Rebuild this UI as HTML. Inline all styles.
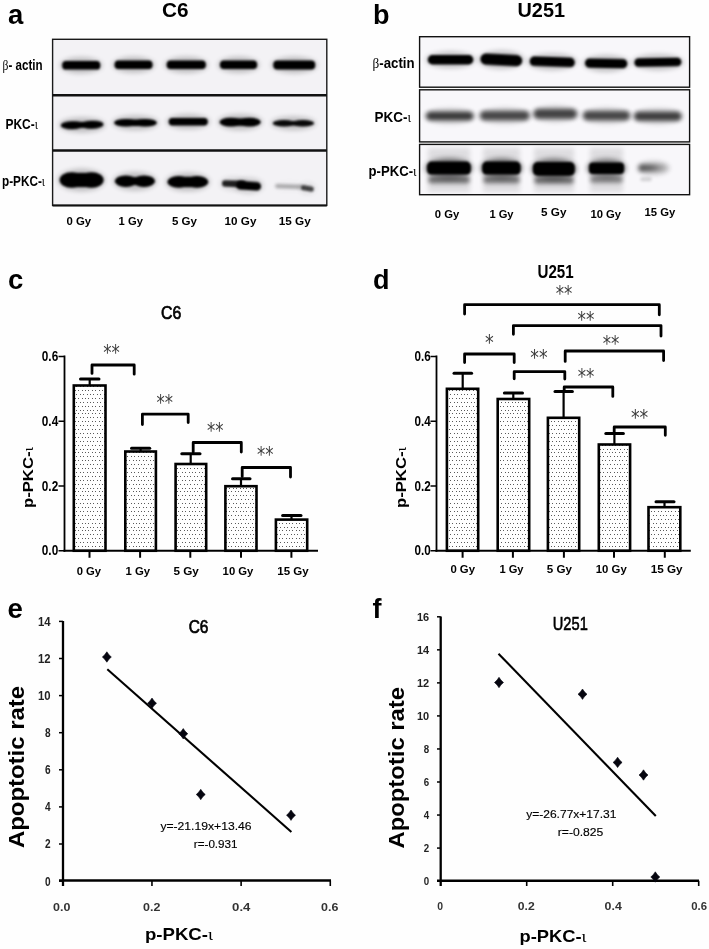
<!DOCTYPE html>
<html><head><meta charset="utf-8"><title>PKC-iota figure</title>
<style>html,body{margin:0;padding:0;background:#fefefe;}svg{display:block;}</style>
</head><body>
<svg width="709" height="949" viewBox="0 0 709 949">
<defs>
<filter id="bb" x="-20%" y="-60%" width="140%" height="220%"><feGaussianBlur stdDeviation="0.8"/></filter><filter id="bb2" x="-20%" y="-60%" width="140%" height="220%"><feGaussianBlur stdDeviation="1.5"/></filter><filter id="bb3" x="-20%" y="-80%" width="140%" height="260%"><feGaussianBlur stdDeviation="2.1"/></filter>
<filter id="bh" x="-30%" y="-80%" width="160%" height="260%"><feGaussianBlur stdDeviation="2.5"/></filter>
<pattern id="dots" patternUnits="userSpaceOnUse" width="17" height="39" x="0" y="0"><g fill="#5a5a5a"><rect x="0" y="0" width="1" height="1"/><rect x="3" y="0" width="1" height="1"/><rect x="7" y="0" width="1" height="1"/><rect x="10" y="0" width="1" height="1"/><rect x="14" y="0" width="1" height="1"/><rect x="2" y="4" width="1" height="1"/><rect x="5" y="4" width="1" height="1"/><rect x="8" y="4" width="1" height="1"/><rect x="12" y="4" width="1" height="1"/><rect x="15" y="4" width="1" height="1"/><rect x="0" y="8" width="1" height="1"/><rect x="3" y="8" width="1" height="1"/><rect x="7" y="8" width="1" height="1"/><rect x="10" y="8" width="1" height="1"/><rect x="14" y="8" width="1" height="1"/><rect x="2" y="12" width="1" height="1"/><rect x="5" y="12" width="1" height="1"/><rect x="8" y="12" width="1" height="1"/><rect x="12" y="12" width="1" height="1"/><rect x="15" y="12" width="1" height="1"/><rect x="0" y="16" width="1" height="1"/><rect x="3" y="16" width="1" height="1"/><rect x="7" y="16" width="1" height="1"/><rect x="10" y="16" width="1" height="1"/><rect x="14" y="16" width="1" height="1"/><rect x="2" y="20" width="1" height="1"/><rect x="5" y="20" width="1" height="1"/><rect x="8" y="20" width="1" height="1"/><rect x="12" y="20" width="1" height="1"/><rect x="15" y="20" width="1" height="1"/><rect x="0" y="23" width="1" height="1"/><rect x="3" y="23" width="1" height="1"/><rect x="7" y="23" width="1" height="1"/><rect x="10" y="23" width="1" height="1"/><rect x="14" y="23" width="1" height="1"/><rect x="2" y="27" width="1" height="1"/><rect x="5" y="27" width="1" height="1"/><rect x="8" y="27" width="1" height="1"/><rect x="12" y="27" width="1" height="1"/><rect x="15" y="27" width="1" height="1"/><rect x="0" y="31" width="1" height="1"/><rect x="3" y="31" width="1" height="1"/><rect x="7" y="31" width="1" height="1"/><rect x="10" y="31" width="1" height="1"/><rect x="14" y="31" width="1" height="1"/><rect x="2" y="35" width="1" height="1"/><rect x="5" y="35" width="1" height="1"/><rect x="8" y="35" width="1" height="1"/><rect x="12" y="35" width="1" height="1"/><rect x="15" y="35" width="1" height="1"/></g></pattern><linearGradient id="fade" x1="0" x2="1" y1="0" y2="0"><stop offset="0" stop-color="#000" stop-opacity="0.6"/><stop offset="0.45" stop-color="#000" stop-opacity="0.5"/><stop offset="1" stop-color="#000" stop-opacity="0.05"/></linearGradient>
</defs>
<rect width="709" height="949" fill="#fefefe"/>
<rect x="52.6" y="39.3" width="274.2" height="56.0" fill="#f3f2f5"/><rect x="52.6" y="95.3" width="274.2" height="55.2" fill="#f3f2f5"/><rect x="52.6" y="150.5" width="274.2" height="54.9" fill="#f3f2f5"/><g><ellipse cx="81.2" cy="65.3" rx="21.2" ry="8.0" fill="#000" opacity="0.22" filter="url(#bh)"/><rect x="62.2" y="61.0" width="38.1" height="8.6" rx="3.9" fill="#000" filter="url(#bb)"/><ellipse cx="133.6" cy="64.8" rx="21.1" ry="8.0" fill="#000" opacity="0.22" filter="url(#bh)"/><rect x="114.6" y="60.5" width="37.9" height="8.5" rx="3.8" fill="#000" filter="url(#bb)"/><ellipse cx="186.2" cy="64.8" rx="21.8" ry="8.0" fill="#000" opacity="0.22" filter="url(#bh)"/><rect x="166.7" y="60.5" width="39.1" height="8.5" rx="3.8" fill="#000" filter="url(#bb)"/><ellipse cx="238.6" cy="64.8" rx="20.8" ry="8.0" fill="#000" opacity="0.22" filter="url(#bh)"/><rect x="220.0" y="60.5" width="37.1" height="8.5" rx="3.8" fill="#000" filter="url(#bb)"/><ellipse cx="294.2" cy="65.0" rx="23.1" ry="8.2" fill="#000" opacity="0.22" filter="url(#bh)"/><rect x="273.3" y="60.5" width="41.9" height="9.0" rx="4.1" fill="#000" filter="url(#bb)"/><ellipse cx="82.2" cy="124.9" rx="23.1" ry="7.5" fill="#000" opacity="0.22" filter="url(#bh)"/><g transform="rotate(-1.5 82.2 124.9)" filter="url(#bb)"><ellipse cx="72.4" cy="124.9" rx="11.7" ry="4.0" fill="#000"/><ellipse cx="91.9" cy="124.9" rx="11.7" ry="4.0" fill="#000"/><rect x="72.4" y="121.9" width="19.5" height="5.9" fill="#000"/></g><ellipse cx="135.5" cy="122.8" rx="23.1" ry="7.3" fill="#000" opacity="0.22" filter="url(#bh)"/><g filter="url(#bb)"><ellipse cx="125.8" cy="122.8" rx="11.7" ry="3.8" fill="#000"/><ellipse cx="145.2" cy="122.8" rx="11.7" ry="3.8" fill="#000"/><rect x="125.8" y="119.5" width="19.4" height="6.5" fill="#000"/></g><ellipse cx="188.2" cy="121.7" rx="21.8" ry="7.4" fill="#000" opacity="0.22" filter="url(#bh)"/><rect x="168.7" y="117.9" width="39.1" height="7.5" rx="3.7" fill="#000" filter="url(#bb)"/><ellipse cx="240.2" cy="122.1" rx="22.3" ry="7.9" fill="#000" opacity="0.22" filter="url(#bh)"/><g filter="url(#bb)"><ellipse cx="230.8" cy="122.1" rx="11.3" ry="4.4" fill="#000"/><ellipse cx="249.5" cy="122.1" rx="11.3" ry="4.4" fill="#000"/><rect x="230.8" y="118.4" width="18.7" height="7.4" fill="#000"/></g><ellipse cx="293.4" cy="123.2" rx="22.4" ry="6.7" fill="#000" opacity="0.21" filter="url(#bh)"/><g filter="url(#bb)" opacity="0.95"><ellipse cx="284.0" cy="123.2" rx="11.3" ry="3.2" fill="#000"/><ellipse cx="302.8" cy="123.2" rx="11.3" ry="3.2" fill="#000"/><rect x="284.0" y="121.0" width="18.8" height="4.5" fill="#000"/></g><ellipse cx="81.6" cy="180.0" rx="23.7" ry="11.2" fill="#000" opacity="0.22" filter="url(#bh)"/><g filter="url(#bb)"><ellipse cx="71.6" cy="180.0" rx="12.0" ry="7.7" fill="#000"/><ellipse cx="91.6" cy="180.0" rx="12.0" ry="7.7" fill="#000"/><rect x="71.6" y="172.9" width="20.0" height="14.2" fill="#000"/></g><ellipse cx="134.9" cy="181.2" rx="21.7" ry="9.2" fill="#000" opacity="0.22" filter="url(#bh)"/><g filter="url(#bb)"><ellipse cx="125.9" cy="181.2" rx="11.0" ry="5.8" fill="#000"/><ellipse cx="144.0" cy="181.2" rx="11.0" ry="5.8" fill="#000"/><rect x="125.9" y="177.1" width="18.2" height="8.0" fill="#000"/></g><ellipse cx="187.8" cy="181.9" rx="22.2" ry="9.2" fill="#000" opacity="0.22" filter="url(#bh)"/><g filter="url(#bb)"><ellipse cx="178.6" cy="181.9" rx="11.2" ry="5.8" fill="#000"/><ellipse cx="197.1" cy="181.9" rx="11.2" ry="5.8" fill="#000"/><rect x="178.6" y="176.8" width="18.5" height="10.3" fill="#000"/></g><ellipse cx="233.9" cy="183.8" rx="14.1" ry="7.0" fill="#000" opacity="0.10" filter="url(#bh)"/><rect x="222.0" y="180.5" width="23.8" height="6.6" rx="3.3" fill="#000" filter="url(#bb)" transform="rotate(2.0 233.9 183.8)" opacity="0.85"/><ellipse cx="248.7" cy="185.7" rx="14.7" ry="8.0" fill="#000" opacity="0.15" filter="url(#bh)"/><rect x="236.2" y="181.4" width="24.9" height="8.6" rx="4.3" fill="#000" filter="url(#bb)" transform="rotate(4.0 248.7 185.7)"/><ellipse cx="289.5" cy="186.4" rx="16.5" ry="5.7" fill="#000" opacity="0.02" filter="url(#bh)"/><rect x="275.2" y="184.4" width="28.6" height="4.0" rx="2.0" fill="#000" filter="url(#bb2)" transform="rotate(2.0 289.5 186.4)" opacity="0.30"/><ellipse cx="307.5" cy="188.3" rx="8.5" ry="6.3" fill="#000" opacity="0.07" filter="url(#bh)"/><rect x="301.2" y="185.7" width="12.6" height="5.3" rx="2.6" fill="#000" filter="url(#bb)" transform="rotate(10.0 307.5 188.3)" opacity="0.70"/></g><rect x="52.6" y="39.3" width="274.2" height="166.1" fill="none" stroke="#1a1a1a" stroke-width="1.4"/><line x1="52.6" y1="95.3" x2="326.8" y2="95.3" stroke="#111" stroke-width="2.6"/><line x1="52.6" y1="150.5" x2="326.8" y2="150.5" stroke="#111" stroke-width="2.6"/><line x1="52.6" y1="205.4" x2="326.8" y2="205.4" stroke="#111" stroke-width="2"/>
<text x="8.00" y="24.10" font-family="'Liberation Sans', Arial, sans-serif" font-size="27.50" font-weight="bold" fill="#000">a</text>
<text x="162.00" y="16.90" font-family="'Liberation Sans', Arial, sans-serif" font-size="19.50" font-weight="bold" fill="#000" textLength="26.50" lengthAdjust="spacingAndGlyphs">C6</text>
<text x="2.6" y="70.3" font-family="'Liberation Sans', Arial, sans-serif" font-size="14" font-weight="bold" textLength="40" lengthAdjust="spacingAndGlyphs"><tspan font-family="'Liberation Serif', 'Times New Roman', serif" font-weight="normal">β</tspan>- actin</text>
<text x="5.4" y="129" font-family="'Liberation Sans', Arial, sans-serif" font-size="15" font-weight="bold" textLength="32.5" lengthAdjust="spacingAndGlyphs">PKC-<tspan font-family="'Liberation Serif', 'Times New Roman', serif" font-weight="normal">ι</tspan></text>
<text x="2.0" y="185.7" font-family="'Liberation Sans', Arial, sans-serif" font-size="14.6" font-weight="bold" textLength="43" lengthAdjust="spacingAndGlyphs">p-PKC-<tspan font-family="'Liberation Serif', 'Times New Roman', serif" font-weight="normal">ι</tspan></text>
<text x="66.45" y="224.60" font-family="'Liberation Sans', Arial, sans-serif" font-size="10.80" font-weight="bold" fill="#000" textLength="24.65" lengthAdjust="spacingAndGlyphs">0 Gy</text>
<text x="118.60" y="224.60" font-family="'Liberation Sans', Arial, sans-serif" font-size="10.80" font-weight="bold" fill="#000" textLength="24.30" lengthAdjust="spacingAndGlyphs">1 Gy</text>
<text x="171.90" y="224.60" font-family="'Liberation Sans', Arial, sans-serif" font-size="10.80" font-weight="bold" fill="#000" textLength="25.00" lengthAdjust="spacingAndGlyphs">5 Gy</text>
<text x="224.60" y="224.60" font-family="'Liberation Sans', Arial, sans-serif" font-size="10.80" font-weight="bold" fill="#000" textLength="31.80" lengthAdjust="spacingAndGlyphs">10 Gy</text>
<text x="278.80" y="224.60" font-family="'Liberation Sans', Arial, sans-serif" font-size="10.80" font-weight="bold" fill="#000" textLength="32.00" lengthAdjust="spacingAndGlyphs">15 Gy</text>
<rect x="419.6" y="36.7" width="270.0" height="50.5" fill="#f8f7fa"/><rect x="419.6" y="89.8" width="270.0" height="52.1" fill="#f8f7fa"/><rect x="419.6" y="144.4" width="270.0" height="50.3" fill="#f8f7fa"/><rect x="428.0" y="148.0" width="42.0" height="44.0" fill="#000" opacity="0.10" filter="url(#bh)"/><rect x="483.0" y="148.0" width="37.0" height="44.0" fill="#000" opacity="0.10" filter="url(#bh)"/><rect x="534.0" y="148.0" width="40.0" height="44.0" fill="#000" opacity="0.10" filter="url(#bh)"/><rect x="590.0" y="148.0" width="33.0" height="44.0" fill="#000" opacity="0.10" filter="url(#bh)"/><g><ellipse cx="450.6" cy="59.8" rx="24.9" ry="8.3" fill="#000" opacity="0.22" filter="url(#bh)"/><rect x="427.8" y="55.1" width="45.5" height="9.3" rx="4.6" fill="#000" filter="url(#bb)"/><ellipse cx="501.3" cy="59.8" rx="23.1" ry="9.2" fill="#000" opacity="0.22" filter="url(#bh)"/><rect x="480.4" y="54.3" width="41.8" height="11.1" rx="5.5" fill="#000" filter="url(#bb)" transform="rotate(3.0 501.3 59.8)"/><ellipse cx="552.2" cy="61.8" rx="24.8" ry="8.4" fill="#000" opacity="0.22" filter="url(#bh)"/><rect x="529.7" y="57.1" width="45.1" height="9.5" rx="4.7" fill="#000" filter="url(#bb)" transform="rotate(2.0 552.2 61.8)"/><ellipse cx="606.1" cy="63.4" rx="23.4" ry="8.4" fill="#000" opacity="0.22" filter="url(#bh)"/><rect x="585.0" y="58.7" width="42.3" height="9.4" rx="4.7" fill="#000" filter="url(#bb)" transform="rotate(1.0 606.1 63.4)"/><ellipse cx="657.9" cy="62.2" rx="25.7" ry="8.0" fill="#000" opacity="0.22" filter="url(#bh)"/><rect x="634.4" y="57.9" width="47.0" height="8.7" rx="4.3" fill="#000" filter="url(#bb)" transform="rotate(-1.0 657.9 62.2)"/><ellipse cx="449.8" cy="116.0" rx="25.8" ry="8.0" fill="#000" opacity="0.16" filter="url(#bh)"/><rect x="426.2" y="111.7" width="47.1" height="8.6" rx="4.3" fill="#000" filter="url(#bb3)" opacity="0.72"/><ellipse cx="504.8" cy="115.7" rx="26.8" ry="8.4" fill="#000" opacity="0.15" filter="url(#bh)"/><rect x="480.2" y="111.0" width="49.1" height="9.3" rx="4.7" fill="#000" filter="url(#bb3)" opacity="0.66"/><ellipse cx="555.2" cy="113.9" rx="23.8" ry="8.6" fill="#000" opacity="0.15" filter="url(#bh)"/><rect x="533.7" y="109.0" width="43.1" height="9.8" rx="4.9" fill="#000" filter="url(#bb3)" opacity="0.68"/><ellipse cx="606.5" cy="115.7" rx="25.5" ry="8.4" fill="#000" opacity="0.15" filter="url(#bh)"/><rect x="583.2" y="111.0" width="46.6" height="9.3" rx="4.7" fill="#000" filter="url(#bb3)" opacity="0.66"/><ellipse cx="657.8" cy="116.2" rx="25.8" ry="8.2" fill="#000" opacity="0.15" filter="url(#bh)"/><rect x="634.2" y="111.7" width="47.2" height="9.1" rx="4.5" fill="#000" filter="url(#bb3)" opacity="0.70"/><ellipse cx="449.0" cy="179.8" rx="23.0" ry="7.2" fill="#000" opacity="0.00" filter="url(#bh)"/><rect x="428.2" y="176.2" width="41.6" height="7.1" rx="3.5" fill="#000" filter="url(#bb3)" opacity="0.50"/><ellipse cx="501.5" cy="179.8" rx="20.5" ry="7.2" fill="#000" opacity="0.00" filter="url(#bh)"/><rect x="483.2" y="176.2" width="36.6" height="7.1" rx="3.5" fill="#000" filter="url(#bb3)" opacity="0.48"/><ellipse cx="554.0" cy="180.2" rx="22.0" ry="7.2" fill="#000" opacity="0.00" filter="url(#bh)"/><rect x="534.2" y="176.7" width="39.6" height="7.1" rx="3.5" fill="#000" filter="url(#bb3)" opacity="0.50"/><ellipse cx="606.5" cy="179.5" rx="18.5" ry="7.0" fill="#000" opacity="0.00" filter="url(#bh)"/><rect x="590.2" y="176.2" width="32.6" height="6.6" rx="3.3" fill="#000" filter="url(#bb3)" opacity="0.42"/><ellipse cx="646.0" cy="179.2" rx="8.0" ry="5.8" fill="#000" opacity="0.00" filter="url(#bh)"/><rect x="640.2" y="177.2" width="11.6" height="4.1" rx="2.0" fill="#000" filter="url(#bb2)" opacity="0.15"/><ellipse cx="448.9" cy="168.1" rx="24.1" ry="10.2" fill="#000" opacity="0.45" filter="url(#bh)"/><rect x="427.0" y="161.5" width="43.8" height="13.1" rx="4.7" fill="#000" filter="url(#bb)"/><ellipse cx="501.4" cy="168.1" rx="21.4" ry="10.2" fill="#000" opacity="0.45" filter="url(#bh)"/><rect x="482.2" y="161.5" width="38.4" height="13.1" rx="4.7" fill="#000" filter="url(#bb)"/><ellipse cx="553.9" cy="168.9" rx="23.1" ry="10.6" fill="#000" opacity="0.45" filter="url(#bh)"/><rect x="532.9" y="162.0" width="41.9" height="13.8" rx="5.0" fill="#000" filter="url(#bb)"/><ellipse cx="606.5" cy="168.2" rx="19.8" ry="9.4" fill="#000" opacity="0.45" filter="url(#bh)"/><rect x="589.0" y="162.5" width="35.1" height="11.5" rx="4.1" fill="#000" filter="url(#bb)"/><ellipse cx="653.2" cy="167.9" rx="16.8" ry="7.4" fill="#000" opacity="0.15" filter="url(#bh)"/><rect x="638.7" y="164.2" width="29.1" height="7.4" rx="3.7" fill="url(#fade)" filter="url(#bb3)"/></g><rect x="419.6" y="36.7" width="270.0" height="50.5" fill="none" stroke="#111" stroke-width="1.4"/><rect x="419.6" y="89.8" width="270.0" height="52.1" fill="none" stroke="#111" stroke-width="1.4"/><rect x="419.6" y="144.4" width="270.0" height="50.3" fill="none" stroke="#111" stroke-width="1.4"/>
<text x="373.00" y="24.10" font-family="'Liberation Sans', Arial, sans-serif" font-size="27.00" font-weight="bold" fill="#000">b</text>
<text x="517.50" y="16.90" font-family="'Liberation Sans', Arial, sans-serif" font-size="20.50" font-weight="bold" fill="#000" textLength="47.50" lengthAdjust="spacingAndGlyphs">U251</text>
<text x="372.6" y="67.7" font-family="'Liberation Sans', Arial, sans-serif" font-size="14" font-weight="bold" textLength="42" lengthAdjust="spacingAndGlyphs"><tspan font-family="'Liberation Serif', 'Times New Roman', serif" font-weight="normal">β</tspan>-actin</text>
<text x="374.5" y="121.6" font-family="'Liberation Sans', Arial, sans-serif" font-size="14.8" font-weight="bold" textLength="36.5" lengthAdjust="spacingAndGlyphs">PKC-<tspan font-family="'Liberation Serif', 'Times New Roman', serif" font-weight="normal">ι</tspan></text>
<text x="368.6" y="175.6" font-family="'Liberation Sans', Arial, sans-serif" font-size="14.6" font-weight="bold" textLength="48" lengthAdjust="spacingAndGlyphs">p-PKC-<tspan font-family="'Liberation Serif', 'Times New Roman', serif" font-weight="normal">ι</tspan></text>
<text x="434.80" y="217.60" font-family="'Liberation Sans', Arial, sans-serif" font-size="10.80" font-weight="bold" fill="#000" textLength="24.50" lengthAdjust="spacingAndGlyphs">0 Gy</text>
<text x="489.40" y="218.30" font-family="'Liberation Sans', Arial, sans-serif" font-size="10.80" font-weight="bold" fill="#000" textLength="24.20" lengthAdjust="spacingAndGlyphs">1 Gy</text>
<text x="541.10" y="216.30" font-family="'Liberation Sans', Arial, sans-serif" font-size="10.80" font-weight="bold" fill="#000" textLength="25.40" lengthAdjust="spacingAndGlyphs">5 Gy</text>
<text x="590.40" y="217.60" font-family="'Liberation Sans', Arial, sans-serif" font-size="10.80" font-weight="bold" fill="#000" textLength="30.70" lengthAdjust="spacingAndGlyphs">10 Gy</text>
<text x="644.50" y="216.30" font-family="'Liberation Sans', Arial, sans-serif" font-size="10.80" font-weight="bold" fill="#000" textLength="30.80" lengthAdjust="spacingAndGlyphs">15 Gy</text>
<text x="8.00" y="289.10" font-family="'Liberation Sans', Arial, sans-serif" font-size="27.50" font-weight="bold" fill="#000">c</text>
<text x="161.00" y="318.70" font-family="'Liberation Sans', Arial, sans-serif" font-size="18.30" fill="#000" textLength="20.30" lengthAdjust="spacingAndGlyphs" stroke="#000" stroke-width="0.7">C6</text>
<rect x="73.80" y="385.50" width="31.70" height="165.25" fill="url(#dots)" stroke="#000" stroke-width="2.6"/><rect x="125.30" y="451.50" width="30.60" height="99.25" fill="url(#dots)" stroke="#000" stroke-width="2.6"/><rect x="175.60" y="464.00" width="30.60" height="86.75" fill="url(#dots)" stroke="#000" stroke-width="2.6"/><rect x="225.40" y="486.20" width="31.10" height="64.55" fill="url(#dots)" stroke="#000" stroke-width="2.6"/><rect x="275.90" y="519.60" width="31.30" height="31.15" fill="url(#dots)" stroke="#000" stroke-width="2.6"/><line x1="89.70" y1="379.00" x2="89.70" y2="385.50" stroke="#000" stroke-width="2.2"/><line x1="80.50" y1="379.00" x2="99.00" y2="379.00" stroke="#000" stroke-width="3" stroke-linecap="round"/><line x1="140.60" y1="448.20" x2="140.60" y2="451.50" stroke="#000" stroke-width="2.2"/><line x1="131.50" y1="448.20" x2="149.70" y2="448.20" stroke="#000" stroke-width="3" stroke-linecap="round"/><line x1="190.70" y1="453.80" x2="190.70" y2="464.00" stroke="#000" stroke-width="2.2"/><line x1="181.80" y1="453.80" x2="200.00" y2="453.80" stroke="#000" stroke-width="3" stroke-linecap="round"/><line x1="241.00" y1="478.80" x2="241.00" y2="486.20" stroke="#000" stroke-width="2.2"/><line x1="232.50" y1="478.80" x2="250.00" y2="478.80" stroke="#000" stroke-width="3" stroke-linecap="round"/><line x1="291.50" y1="515.60" x2="291.50" y2="519.60" stroke="#000" stroke-width="2.2"/><line x1="282.60" y1="515.60" x2="301.00" y2="515.60" stroke="#000" stroke-width="3" stroke-linecap="round"/><line x1="64.50" y1="355.50" x2="64.50" y2="551.75" stroke="#000" stroke-width="1.8"/><line x1="63.50" y1="550.75" x2="318.00" y2="550.75" stroke="#000" stroke-width="2.2"/><line x1="58.50" y1="550.75" x2="64.50" y2="550.75" stroke="#000" stroke-width="1.5"/><line x1="58.50" y1="486.00" x2="64.50" y2="486.00" stroke="#000" stroke-width="1.5"/><line x1="58.50" y1="421.25" x2="64.50" y2="421.25" stroke="#000" stroke-width="1.5"/><line x1="58.50" y1="356.50" x2="64.50" y2="356.50" stroke="#000" stroke-width="1.5"/><line x1="89.50" y1="550.75" x2="89.50" y2="557.75" stroke="#000" stroke-width="2"/><line x1="140.10" y1="550.75" x2="140.10" y2="557.75" stroke="#000" stroke-width="2"/><line x1="190.30" y1="550.75" x2="190.30" y2="557.75" stroke="#000" stroke-width="2"/><line x1="241.00" y1="550.75" x2="241.00" y2="557.75" stroke="#000" stroke-width="2"/><line x1="291.40" y1="550.75" x2="291.40" y2="557.75" stroke="#000" stroke-width="2"/>
<path d="M92.00 373.40 V365.00 H134.20 V374.20" fill="none" stroke="#000" stroke-width="2.8" stroke-linejoin="round" stroke-linecap="round"/>
<path d="M142.40 424.50 V414.20 H188.20 V422.50" fill="none" stroke="#000" stroke-width="2.8" stroke-linejoin="round" stroke-linecap="round"/>
<path d="M193.20 452.00 V442.50 H241.30 V452.00" fill="none" stroke="#000" stroke-width="2.8" stroke-linejoin="round" stroke-linecap="round"/>
<path d="M242.20 476.50 V467.50 H290.50 V477.00" fill="none" stroke="#000" stroke-width="2.8" stroke-linejoin="round" stroke-linecap="round"/>
<text transform="translate(103.31 360.05) scale(0.779 1)" font-family="'DejaVu Sans', sans-serif" font-size="21.3" fill="#3a3a3a">**</text>
<text transform="translate(156.51 410.45) scale(0.774 1)" font-family="'DejaVu Sans', sans-serif" font-size="21.3" fill="#3a3a3a">**</text>
<text transform="translate(207.01 437.95) scale(0.774 1)" font-family="'DejaVu Sans', sans-serif" font-size="21.3" fill="#3a3a3a">**</text>
<text transform="translate(257.01 462.45) scale(0.774 1)" font-family="'DejaVu Sans', sans-serif" font-size="21.3" fill="#3a3a3a">**</text>
<text x="41.80" y="361.10" font-family="'Liberation Sans', Arial, sans-serif" font-size="14.20" font-weight="bold" fill="#000" textLength="16.40" lengthAdjust="spacingAndGlyphs">0.6</text>
<text x="41.80" y="425.85" font-family="'Liberation Sans', Arial, sans-serif" font-size="14.20" font-weight="bold" fill="#000" textLength="16.40" lengthAdjust="spacingAndGlyphs">0.4</text>
<text x="41.80" y="490.60" font-family="'Liberation Sans', Arial, sans-serif" font-size="14.20" font-weight="bold" fill="#000" textLength="16.40" lengthAdjust="spacingAndGlyphs">0.2</text>
<text x="41.80" y="555.35" font-family="'Liberation Sans', Arial, sans-serif" font-size="14.20" font-weight="bold" fill="#000" textLength="16.40" lengthAdjust="spacingAndGlyphs">0.0</text>
<text x="76.70" y="574.50" font-family="'Liberation Sans', Arial, sans-serif" font-size="10.80" font-weight="bold" fill="#000" textLength="24.40" lengthAdjust="spacingAndGlyphs">0 Gy</text>
<text x="125.50" y="574.50" font-family="'Liberation Sans', Arial, sans-serif" font-size="10.80" font-weight="bold" fill="#000" textLength="24.60" lengthAdjust="spacingAndGlyphs">1 Gy</text>
<text x="173.40" y="574.50" font-family="'Liberation Sans', Arial, sans-serif" font-size="10.80" font-weight="bold" fill="#000" textLength="25.40" lengthAdjust="spacingAndGlyphs">5 Gy</text>
<text x="222.60" y="574.50" font-family="'Liberation Sans', Arial, sans-serif" font-size="10.80" font-weight="bold" fill="#000" textLength="30.80" lengthAdjust="spacingAndGlyphs">10 Gy</text>
<text x="277.30" y="574.50" font-family="'Liberation Sans', Arial, sans-serif" font-size="10.80" font-weight="bold" fill="#000" textLength="31.40" lengthAdjust="spacingAndGlyphs">15 Gy</text>
<text transform="translate(32.9 508) rotate(-90)" font-family="'Liberation Sans', Arial, sans-serif" font-size="13.8" font-weight="bold" textLength="61" lengthAdjust="spacingAndGlyphs">p-PKC-<tspan font-family="'Liberation Serif', 'Times New Roman', serif" font-weight="normal">ι</tspan></text>
<text x="373.00" y="288.70" font-family="'Liberation Sans', Arial, sans-serif" font-size="27.00" font-weight="bold" fill="#000">d</text>
<text x="537.50" y="278.00" font-family="'Liberation Sans', Arial, sans-serif" font-size="19.00" font-weight="bold" fill="#000" textLength="36.20" lengthAdjust="spacingAndGlyphs">U251</text>
<rect x="446.90" y="388.80" width="31.30" height="161.95" fill="url(#dots)" stroke="#000" stroke-width="2.6"/><rect x="497.70" y="399.00" width="31.50" height="151.75" fill="url(#dots)" stroke="#000" stroke-width="2.6"/><rect x="547.90" y="417.80" width="31.30" height="132.95" fill="url(#dots)" stroke="#000" stroke-width="2.6"/><rect x="598.80" y="444.50" width="31.30" height="106.25" fill="url(#dots)" stroke="#000" stroke-width="2.6"/><rect x="648.50" y="507.20" width="31.80" height="43.55" fill="url(#dots)" stroke="#000" stroke-width="2.6"/><line x1="462.70" y1="373.30" x2="462.70" y2="388.80" stroke="#000" stroke-width="2.2"/><line x1="454.00" y1="373.30" x2="471.60" y2="373.30" stroke="#000" stroke-width="3" stroke-linecap="round"/><line x1="513.30" y1="393.00" x2="513.30" y2="399.00" stroke="#000" stroke-width="2.2"/><line x1="504.40" y1="393.00" x2="522.50" y2="393.00" stroke="#000" stroke-width="3" stroke-linecap="round"/><line x1="563.60" y1="391.60" x2="563.60" y2="417.80" stroke="#000" stroke-width="2.2"/><line x1="555.00" y1="391.60" x2="572.40" y2="391.60" stroke="#000" stroke-width="3" stroke-linecap="round"/><line x1="614.40" y1="433.60" x2="614.40" y2="444.50" stroke="#000" stroke-width="2.2"/><line x1="605.80" y1="433.60" x2="623.40" y2="433.60" stroke="#000" stroke-width="3" stroke-linecap="round"/><line x1="664.50" y1="501.70" x2="664.50" y2="507.20" stroke="#000" stroke-width="2.2"/><line x1="656.00" y1="501.70" x2="674.00" y2="501.70" stroke="#000" stroke-width="3" stroke-linecap="round"/><line x1="436.50" y1="355.50" x2="436.50" y2="551.75" stroke="#000" stroke-width="1.8"/><line x1="435.50" y1="550.75" x2="690.80" y2="550.75" stroke="#000" stroke-width="2.2"/><line x1="430.50" y1="550.75" x2="436.50" y2="550.75" stroke="#000" stroke-width="1.5"/><line x1="430.50" y1="486.00" x2="436.50" y2="486.00" stroke="#000" stroke-width="1.5"/><line x1="430.50" y1="421.25" x2="436.50" y2="421.25" stroke="#000" stroke-width="1.5"/><line x1="430.50" y1="356.50" x2="436.50" y2="356.50" stroke="#000" stroke-width="1.5"/><line x1="462.60" y1="550.75" x2="462.60" y2="557.75" stroke="#000" stroke-width="2"/><line x1="512.90" y1="550.75" x2="512.90" y2="557.75" stroke="#000" stroke-width="2"/><line x1="563.90" y1="550.75" x2="563.90" y2="557.75" stroke="#000" stroke-width="2"/><line x1="614.00" y1="550.75" x2="614.00" y2="557.75" stroke="#000" stroke-width="2"/><line x1="664.80" y1="550.75" x2="664.80" y2="557.75" stroke="#000" stroke-width="2"/>
<path d="M464.60 314.00 V304.70 H659.30 V314.80" fill="none" stroke="#000" stroke-width="2.8" stroke-linejoin="round" stroke-linecap="round"/>
<path d="M513.40 334.30 V325.60 H661.00 V336.00" fill="none" stroke="#000" stroke-width="2.8" stroke-linejoin="round" stroke-linecap="round"/>
<path d="M464.60 362.50 V354.00 H514.20 V362.50" fill="none" stroke="#000" stroke-width="2.8" stroke-linejoin="round" stroke-linecap="round"/>
<path d="M565.20 361.40 V351.00 H663.60 V360.50" fill="none" stroke="#000" stroke-width="2.8" stroke-linejoin="round" stroke-linecap="round"/>
<path d="M514.20 378.80 V371.60 H564.80 V379.00" fill="none" stroke="#000" stroke-width="2.8" stroke-linejoin="round" stroke-linecap="round"/>
<path d="M564.20 391.00 V387.00 H612.80 V396.40" fill="none" stroke="#000" stroke-width="2.8" stroke-linejoin="round" stroke-linecap="round"/>
<path d="M614.20 433.00 V427.00 H665.30 V435.30" fill="none" stroke="#000" stroke-width="2.8" stroke-linejoin="round" stroke-linecap="round"/>
<text transform="translate(555.81 300.95) scale(0.779 1)" font-family="'DejaVu Sans', sans-serif" font-size="21.3" fill="#3a3a3a">**</text>
<text transform="translate(577.50 326.55) scale(0.789 1)" font-family="'DejaVu Sans', sans-serif" font-size="21.3" fill="#3a3a3a">**</text>
<text transform="translate(485.08 349.55) scale(0.822 1)" font-family="'DejaVu Sans', sans-serif" font-size="21.3" fill="#3a3a3a">*</text>
<text transform="translate(602.81 350.95) scale(0.779 1)" font-family="'DejaVu Sans', sans-serif" font-size="21.3" fill="#3a3a3a">**</text>
<text transform="translate(530.29 365.35) scale(0.809 1)" font-family="'DejaVu Sans', sans-serif" font-size="21.3" fill="#3a3a3a">**</text>
<text transform="translate(577.71 383.95) scale(0.779 1)" font-family="'DejaVu Sans', sans-serif" font-size="21.3" fill="#3a3a3a">**</text>
<text transform="translate(630.88 424.95) scale(0.814 1)" font-family="'DejaVu Sans', sans-serif" font-size="21.3" fill="#3a3a3a">**</text>
<text x="414.60" y="361.10" font-family="'Liberation Sans', Arial, sans-serif" font-size="14.20" font-weight="bold" fill="#000" textLength="16.20" lengthAdjust="spacingAndGlyphs">0.6</text>
<text x="414.60" y="425.85" font-family="'Liberation Sans', Arial, sans-serif" font-size="14.20" font-weight="bold" fill="#000" textLength="16.20" lengthAdjust="spacingAndGlyphs">0.4</text>
<text x="414.60" y="490.60" font-family="'Liberation Sans', Arial, sans-serif" font-size="14.20" font-weight="bold" fill="#000" textLength="16.20" lengthAdjust="spacingAndGlyphs">0.2</text>
<text x="414.60" y="555.35" font-family="'Liberation Sans', Arial, sans-serif" font-size="14.20" font-weight="bold" fill="#000" textLength="16.20" lengthAdjust="spacingAndGlyphs">0.0</text>
<text x="450.40" y="572.50" font-family="'Liberation Sans', Arial, sans-serif" font-size="10.80" font-weight="bold" fill="#000" textLength="24.60" lengthAdjust="spacingAndGlyphs">0 Gy</text>
<text x="499.40" y="572.50" font-family="'Liberation Sans', Arial, sans-serif" font-size="10.80" font-weight="bold" fill="#000" textLength="24.20" lengthAdjust="spacingAndGlyphs">1 Gy</text>
<text x="546.80" y="572.50" font-family="'Liberation Sans', Arial, sans-serif" font-size="10.80" font-weight="bold" fill="#000" textLength="25.20" lengthAdjust="spacingAndGlyphs">5 Gy</text>
<text x="595.80" y="572.50" font-family="'Liberation Sans', Arial, sans-serif" font-size="10.80" font-weight="bold" fill="#000" textLength="31.00" lengthAdjust="spacingAndGlyphs">10 Gy</text>
<text x="650.70" y="572.50" font-family="'Liberation Sans', Arial, sans-serif" font-size="10.80" font-weight="bold" fill="#000" textLength="31.90" lengthAdjust="spacingAndGlyphs">15 Gy</text>
<text transform="translate(405.9 508) rotate(-90)" font-family="'Liberation Sans', Arial, sans-serif" font-size="13.8" font-weight="bold" textLength="61" lengthAdjust="spacingAndGlyphs">p-PKC-<tspan font-family="'Liberation Serif', 'Times New Roman', serif" font-weight="normal">ι</tspan></text>
<text x="7.60" y="618.00" font-family="'Liberation Sans', Arial, sans-serif" font-size="27.50" font-weight="bold" fill="#000">e</text>
<text x="188.70" y="632.60" font-family="'Liberation Sans', Arial, sans-serif" font-size="18.80" fill="#000" textLength="19.80" lengthAdjust="spacingAndGlyphs" stroke="#000" stroke-width="0.7">C6</text>
<line x1="63" y1="621" x2="63" y2="886" stroke="#000" stroke-width="2.3"/>
<line x1="59" y1="880.6" x2="331" y2="880.6" stroke="#000" stroke-width="2.5"/>
<line x1="59" y1="881.10" x2="63" y2="881.10" stroke="#000" stroke-width="1.5"/>
<text x="45.00" y="885.50" font-family="'Liberation Sans', Arial, sans-serif" font-size="12.20" font-weight="bold" fill="#222" textLength="5.60" lengthAdjust="spacingAndGlyphs">0</text>
<line x1="59" y1="844.00" x2="63" y2="844.00" stroke="#000" stroke-width="1.5"/>
<text x="45.00" y="848.40" font-family="'Liberation Sans', Arial, sans-serif" font-size="12.20" font-weight="bold" fill="#222" textLength="5.60" lengthAdjust="spacingAndGlyphs">2</text>
<line x1="59" y1="806.90" x2="63" y2="806.90" stroke="#000" stroke-width="1.5"/>
<text x="45.00" y="811.30" font-family="'Liberation Sans', Arial, sans-serif" font-size="12.20" font-weight="bold" fill="#222" textLength="5.60" lengthAdjust="spacingAndGlyphs">4</text>
<line x1="59" y1="769.80" x2="63" y2="769.80" stroke="#000" stroke-width="1.5"/>
<text x="45.00" y="774.20" font-family="'Liberation Sans', Arial, sans-serif" font-size="12.20" font-weight="bold" fill="#222" textLength="5.60" lengthAdjust="spacingAndGlyphs">6</text>
<line x1="59" y1="732.70" x2="63" y2="732.70" stroke="#000" stroke-width="1.5"/>
<text x="45.00" y="737.10" font-family="'Liberation Sans', Arial, sans-serif" font-size="12.20" font-weight="bold" fill="#222" textLength="5.60" lengthAdjust="spacingAndGlyphs">8</text>
<line x1="59" y1="695.60" x2="63" y2="695.60" stroke="#000" stroke-width="1.5"/>
<text x="38.00" y="700.00" font-family="'Liberation Sans', Arial, sans-serif" font-size="12.20" font-weight="bold" fill="#222" textLength="12.60" lengthAdjust="spacingAndGlyphs">10</text>
<line x1="59" y1="658.50" x2="63" y2="658.50" stroke="#000" stroke-width="1.5"/>
<text x="38.00" y="662.90" font-family="'Liberation Sans', Arial, sans-serif" font-size="12.20" font-weight="bold" fill="#222" textLength="12.60" lengthAdjust="spacingAndGlyphs">12</text>
<line x1="59" y1="621.40" x2="63" y2="621.40" stroke="#000" stroke-width="1.5"/>
<text x="38.00" y="625.80" font-family="'Liberation Sans', Arial, sans-serif" font-size="12.20" font-weight="bold" fill="#222" textLength="12.60" lengthAdjust="spacingAndGlyphs">14</text>
<line x1="151.96" y1="880.6" x2="151.96" y2="886" stroke="#000" stroke-width="1.6"/>
<line x1="241.12" y1="880.6" x2="241.12" y2="886" stroke="#000" stroke-width="1.6"/>
<line x1="330.28" y1="880.6" x2="330.28" y2="886" stroke="#000" stroke-width="1.6"/>
<text x="53.10" y="910.80" font-family="'Liberation Sans', Arial, sans-serif" font-size="11.00" font-weight="bold" fill="#333" textLength="17.30" lengthAdjust="spacingAndGlyphs">0.0</text>
<text x="143.00" y="910.80" font-family="'Liberation Sans', Arial, sans-serif" font-size="11.00" font-weight="bold" fill="#333" textLength="17.30" lengthAdjust="spacingAndGlyphs">0.2</text>
<text x="232.10" y="910.80" font-family="'Liberation Sans', Arial, sans-serif" font-size="11.00" font-weight="bold" fill="#333" textLength="18.30" lengthAdjust="spacingAndGlyphs">0.4</text>
<text x="321.10" y="910.80" font-family="'Liberation Sans', Arial, sans-serif" font-size="11.00" font-weight="bold" fill="#333" textLength="17.30" lengthAdjust="spacingAndGlyphs">0.6</text>
<line x1="107.3" y1="669.3" x2="291.4" y2="832" stroke="#000" stroke-width="2.1"/>
<path d="M106.85 651.80 Q108.65 654.92 111.35 657.00 Q108.65 659.08 106.85 662.20 Q105.05 659.08 102.35 657.00 Q105.05 654.92 106.85 651.80Z" fill="#05050f" stroke="#05050f" stroke-width="0.6" stroke-linejoin="round"/>
<path d="M152.00 698.05 Q153.80 701.17 156.50 703.25 Q153.80 705.33 152.00 708.45 Q150.20 705.33 147.50 703.25 Q150.20 701.17 152.00 698.05Z" fill="#05050f" stroke="#05050f" stroke-width="0.6" stroke-linejoin="round"/>
<path d="M183.25 728.55 Q185.05 731.67 187.75 733.75 Q185.05 735.83 183.25 738.95 Q181.45 735.83 178.75 733.75 Q181.45 731.67 183.25 728.55Z" fill="#05050f" stroke="#05050f" stroke-width="0.6" stroke-linejoin="round"/>
<path d="M200.75 789.30 Q202.55 792.42 205.25 794.50 Q202.55 796.58 200.75 799.70 Q198.95 796.58 196.25 794.50 Q198.95 792.42 200.75 789.30Z" fill="#05050f" stroke="#05050f" stroke-width="0.6" stroke-linejoin="round"/>
<path d="M291.00 810.00 Q292.80 813.12 295.50 815.20 Q292.80 817.28 291.00 820.40 Q289.20 817.28 286.50 815.20 Q289.20 813.12 291.00 810.00Z" fill="#05050f" stroke="#05050f" stroke-width="0.6" stroke-linejoin="round"/>
<text x="160.40" y="829.50" font-family="'Liberation Sans', Arial, sans-serif" font-size="11.60" fill="#000" textLength="91.20" lengthAdjust="spacingAndGlyphs" stroke="#000" stroke-width="0.15">y=-21.19x+13.46</text>
<text x="193.80" y="848.30" font-family="'Liberation Sans', Arial, sans-serif" font-size="11.60" fill="#000" textLength="43.80" lengthAdjust="spacingAndGlyphs" stroke="#000" stroke-width="0.15">r=-0.931</text>
<text x="145" y="940.1" font-family="'Liberation Sans', Arial, sans-serif" font-size="17" font-weight="bold" textLength="68" lengthAdjust="spacingAndGlyphs">p-PKC-<tspan font-family="'Liberation Serif', 'Times New Roman', serif" font-weight="normal">ι</tspan></text>
<text transform="translate(24.4 848) rotate(-90)" font-family="'Liberation Sans', Arial, sans-serif" font-size="22.5" font-weight="bold" textLength="162" lengthAdjust="spacingAndGlyphs">Apoptotic rate</text>
<text x="372.60" y="617.50" font-family="'Liberation Sans', Arial, sans-serif" font-size="27.00" font-weight="bold" fill="#000">f</text>
<text x="552.80" y="629.60" font-family="'Liberation Sans', Arial, sans-serif" font-size="18.60" fill="#000" textLength="35.00" lengthAdjust="spacingAndGlyphs" stroke="#000" stroke-width="0.6">U251</text>
<line x1="440.7" y1="616.5" x2="440.7" y2="886" stroke="#000" stroke-width="2.3"/>
<line x1="437" y1="880.8" x2="699" y2="880.8" stroke="#000" stroke-width="2.5"/>
<line x1="437" y1="881.12" x2="440.7" y2="881.12" stroke="#000" stroke-width="1.5"/>
<text x="423.80" y="885.42" font-family="'Liberation Sans', Arial, sans-serif" font-size="11.80" font-weight="bold" fill="#222" textLength="5.40" lengthAdjust="spacingAndGlyphs">0</text>
<line x1="437" y1="848.08" x2="440.7" y2="848.08" stroke="#000" stroke-width="1.5"/>
<text x="423.80" y="852.38" font-family="'Liberation Sans', Arial, sans-serif" font-size="11.80" font-weight="bold" fill="#222" textLength="5.40" lengthAdjust="spacingAndGlyphs">2</text>
<line x1="437" y1="815.04" x2="440.7" y2="815.04" stroke="#000" stroke-width="1.5"/>
<text x="423.80" y="819.34" font-family="'Liberation Sans', Arial, sans-serif" font-size="11.80" font-weight="bold" fill="#222" textLength="5.40" lengthAdjust="spacingAndGlyphs">4</text>
<line x1="437" y1="782.00" x2="440.7" y2="782.00" stroke="#000" stroke-width="1.5"/>
<text x="423.80" y="786.30" font-family="'Liberation Sans', Arial, sans-serif" font-size="11.80" font-weight="bold" fill="#222" textLength="5.40" lengthAdjust="spacingAndGlyphs">6</text>
<line x1="437" y1="748.96" x2="440.7" y2="748.96" stroke="#000" stroke-width="1.5"/>
<text x="423.80" y="753.26" font-family="'Liberation Sans', Arial, sans-serif" font-size="11.80" font-weight="bold" fill="#222" textLength="5.40" lengthAdjust="spacingAndGlyphs">8</text>
<line x1="437" y1="715.92" x2="440.7" y2="715.92" stroke="#000" stroke-width="1.5"/>
<text x="417.00" y="720.22" font-family="'Liberation Sans', Arial, sans-serif" font-size="11.80" font-weight="bold" fill="#222" textLength="12.20" lengthAdjust="spacingAndGlyphs">10</text>
<line x1="437" y1="682.88" x2="440.7" y2="682.88" stroke="#000" stroke-width="1.5"/>
<text x="417.00" y="687.18" font-family="'Liberation Sans', Arial, sans-serif" font-size="11.80" font-weight="bold" fill="#222" textLength="12.20" lengthAdjust="spacingAndGlyphs">12</text>
<line x1="437" y1="649.84" x2="440.7" y2="649.84" stroke="#000" stroke-width="1.5"/>
<text x="417.00" y="654.14" font-family="'Liberation Sans', Arial, sans-serif" font-size="11.80" font-weight="bold" fill="#222" textLength="12.20" lengthAdjust="spacingAndGlyphs">14</text>
<line x1="437" y1="616.80" x2="440.7" y2="616.80" stroke="#000" stroke-width="1.5"/>
<text x="417.00" y="621.10" font-family="'Liberation Sans', Arial, sans-serif" font-size="11.80" font-weight="bold" fill="#222" textLength="12.20" lengthAdjust="spacingAndGlyphs">16</text>
<line x1="526.70" y1="880.8" x2="526.70" y2="886" stroke="#000" stroke-width="1.6"/>
<line x1="612.70" y1="880.8" x2="612.70" y2="886" stroke="#000" stroke-width="1.6"/>
<line x1="698.70" y1="880.8" x2="698.70" y2="886" stroke="#000" stroke-width="1.6"/>
<text x="437.30" y="910.40" font-family="'Liberation Sans', Arial, sans-serif" font-size="10.50" font-weight="bold" fill="#333" textLength="5.80" lengthAdjust="spacingAndGlyphs">0</text>
<text x="517.80" y="910.40" font-family="'Liberation Sans', Arial, sans-serif" font-size="10.50" font-weight="bold" fill="#333" textLength="16.90" lengthAdjust="spacingAndGlyphs">0.2</text>
<text x="604.60" y="910.40" font-family="'Liberation Sans', Arial, sans-serif" font-size="10.50" font-weight="bold" fill="#333" textLength="17.20" lengthAdjust="spacingAndGlyphs">0.4</text>
<text x="691.30" y="910.40" font-family="'Liberation Sans', Arial, sans-serif" font-size="10.50" font-weight="bold" fill="#333" textLength="15.80" lengthAdjust="spacingAndGlyphs">0.6</text>
<line x1="498.5" y1="653.75" x2="655.8" y2="816" stroke="#000" stroke-width="2.1"/>
<path d="M499.00 677.30 Q500.80 680.42 503.50 682.50 Q500.80 684.58 499.00 687.70 Q497.20 684.58 494.50 682.50 Q497.20 680.42 499.00 677.30Z" fill="#05050f" stroke="#05050f" stroke-width="0.6" stroke-linejoin="round"/>
<path d="M582.50 689.00 Q584.30 692.12 587.00 694.20 Q584.30 696.28 582.50 699.40 Q580.70 696.28 578.00 694.20 Q580.70 692.12 582.50 689.00Z" fill="#05050f" stroke="#05050f" stroke-width="0.6" stroke-linejoin="round"/>
<path d="M617.60 757.20 Q619.40 760.32 622.10 762.40 Q619.40 764.48 617.60 767.60 Q615.80 764.48 613.10 762.40 Q615.80 760.32 617.60 757.20Z" fill="#05050f" stroke="#05050f" stroke-width="0.6" stroke-linejoin="round"/>
<path d="M643.50 769.80 Q645.30 772.92 648.00 775.00 Q645.30 777.08 643.50 780.20 Q641.70 777.08 639.00 775.00 Q641.70 772.92 643.50 769.80Z" fill="#05050f" stroke="#05050f" stroke-width="0.6" stroke-linejoin="round"/>
<path d="M655.30 871.80 Q657.10 874.92 659.80 877.00 Q657.10 879.08 655.30 882.20 Q653.50 879.08 650.80 877.00 Q653.50 874.92 655.30 871.80Z" fill="#05050f" stroke="#05050f" stroke-width="0.6" stroke-linejoin="round"/>
<text x="526.20" y="817.80" font-family="'Liberation Sans', Arial, sans-serif" font-size="11.60" fill="#000" textLength="90.30" lengthAdjust="spacingAndGlyphs" stroke="#000" stroke-width="0.15">y=-26.77x+17.31</text>
<text x="557.80" y="836.30" font-family="'Liberation Sans', Arial, sans-serif" font-size="11.60" fill="#000" textLength="45.50" lengthAdjust="spacingAndGlyphs" stroke="#000" stroke-width="0.15">r=-0.825</text>
<text x="519.5" y="941.6" font-family="'Liberation Sans', Arial, sans-serif" font-size="17" font-weight="bold" textLength="67" lengthAdjust="spacingAndGlyphs">p-PKC-<tspan font-family="'Liberation Serif', 'Times New Roman', serif" font-weight="normal">ι</tspan></text>
<text transform="translate(403.6 848.5) rotate(-90)" font-family="'Liberation Sans', Arial, sans-serif" font-size="22.5" font-weight="bold" textLength="161.5" lengthAdjust="spacingAndGlyphs">Apoptotic rate</text>
</svg>
</body></html>
